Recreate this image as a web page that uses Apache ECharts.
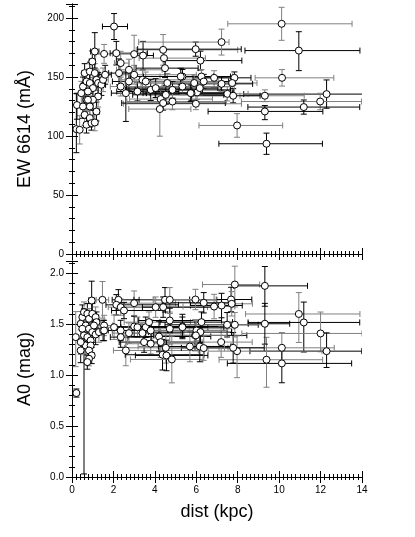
<!DOCTYPE html>
<html>
<head>
<meta charset="utf-8">
<script src="https://cdn.jsdelivr.net/npm/echarts@6/dist/echarts.min.js"></script>
<style>
  html, body { margin: 0; padding: 0; background: #fff; }
  #chart { width: 415px; height: 537px; }
</style>
</head>
<body>
<div id="chart"></div>
<script>
// ---- top panel: EW 6614 (mA) vs distance ----
const ewDist = [
  0.21,0.37,0.24,0.45,0.53,0.7,0.61,0.7,0.53,0.61,0.7,0.86,0.94,1.1,1.18,1.26,0.86,1.01,0.86,1.1,0.98,1.18,1.26,0.77,1.01,0.86,1.42,1.5,1.1,0.77,
  2.03,1.55,2.14,3.0,3.43,4.4,5.97,7.22,6.2,10.12,10.95,10.14,12.29,11.98,11.19,9.31,9.31,7.97,9.39,6.86,7.84,7.73,7.22,7.5,7.78,5.98,5.33,6.25,6.36,6.04,5.77,6.17,
  1.6,2.35,2.27,2.75,2.75,3.0,2.6,2.35,3.16,3.4,3.8,3.56,4.04,4.28,4.4,4.24,4.53,4.6,4.49,4.44,4.85,4.85,5.25,5.33,5.73,5.9
];
const ewDistMinus = [
  0.08,0.1,0.1,0.1,0.12,0.12,0.12,0.1,0.1,0.1,0.12,0.12,0.15,0.15,0.15,0.15,0.15,0.15,0.15,0.2,0.15,0.2,0.2,0.12,0.15,0.12,0.2,0.2,0.2,0.1,
  0.56,0.4,0.3,0.8,0.5,1.3,2.8,4.0,1.7,2.6,2.6,1.3,4.0,3.8,2.7,1.2,2.74,1.84,2.3,1.5,2.0,3.0,2.5,3.5,2.0,3.5,2.5,2.0,3.0,2.5,2.0,3.8,
  0.3,0.3,0.5,0.6,0.8,0.8,0.7,0.5,1.0,1.0,1.2,1.0,1.4,1.5,2.0,1.5,1.6,1.5,1.4,1.2,1.8,2.2,1.8,2.0,2.3,2.5
];
const ewDistPlus = [
  0.08,0.1,0.1,0.12,0.12,0.15,0.12,0.1,0.1,0.1,0.12,0.12,0.15,0.15,0.15,0.15,0.15,0.15,0.15,0.2,0.15,0.2,0.2,0.12,0.15,0.12,0.2,0.25,0.2,0.1,
  0.65,0.4,1.5,0.6,0.5,3.6,2.2,0.36,2.0,3.4,2.95,2.5,1.8,2.0,2.7,1.9,2.8,2.2,2.7,1.0,0.8,1.2,1.5,1.0,1.3,2.2,1.5,1.5,1.2,1.8,2.0,1.0,
  0.3,0.4,0.6,1.6,2.5,3.0,1.0,2.0,2.0,3.0,2.5,3.5,3.0,2.5,3.0,1.5,2.8,3.0,1.6,2.0,2.8,2.6,2.4,2.5,2.0,2.0
];
const ewValue = [
  105.9,105.3,126.3,136.4,142,146.3,153.4,130.8,125.1,118,109.6,115.3,111,111.5,120.8,133.6,145,140.7,154.7,153.4,163.2,147.7,145,137.8,130.8,125.1,143.5,147.7,171.7,130.8,
  192.9,169.7,170.3,169.5,168.3,173.1,173.7,179.7,164,195.2,172.5,149.4,135.6,129.3,124.6,134.2,120.9,109,93.5,149.4,149.4,145,144.3,135.8,134.2,127.4,150.5,150.5,146.3,137,136.4,140.7,
  152,161.9,153.4,156.2,146.3,152,136.4,142,137.8,147.7,139.2,146.3,140.7,131.4,128,122.9,135,145,157.6,166.1,139.2,129.3,150.5,142,136.4,145
];
const ewMinus = [
  20,12,12,10,8,9,8,10,10,9,7,8,6,7,8,9,9,9,8,8,9,9,9,9,9,9,9,10,14,9,
  11,8,10,16,12,13,6,11,8,14,17,7,12,7,6,5,7,10,9,8,5,5,6,6,6,5,6,6,6,6,6,6,
  8,10,10,9,8,8,24,8,8,8,9,8,8,8,6,23,8,8,8,8,7,7,7,7,7,7
];
const ewPlus = [
  30,12,10,10,8,9,8,10,10,9,7,8,6,7,8,9,9,9,8,8,9,9,9,9,9,9,9,10,16,9,
  11,8,10,16,12,13,6,11,8,14,16,7,12,7,6,5,5,10,9,6,5,5,6,6,6,7,6,6,6,6,6,6,
  8,10,12,9,8,8,18,8,8,8,9,8,8,8,6,10,8,8,8,8,7,7,7,7,7,7
];

// ---- bottom panel: A0 (mag) vs distance ----
const a0Dist = [
  0.21,0.18,0.58,0.42,0.5,0.58,0.74,0.82,0.98,1.14,1.18,0.66,0.5,0.82,0.98,0.58,0.74,0.9,1.14,1.3,0.42,0.66,0.9,0.82,0.95,0.82,0.74,0.42,1.5,1.06,0.95,1.47,
  2.24,3.0,4.49,4.72,2.14,2.35,2.51,4.04,4.4,1.55,1.55,2.03,2.35,2.75,3.0,3.16,3.56,3.72,3.8,3.4,2.35,2.6,3.48,3.8,4.2,4.28,4.37,4.53,4.56,4.82,4.72,4.72,5.33,5.69,5.94,
  7.86,9.31,10.95,11.19,12.0,12.29,10.13,10.13,9.39,9.31,7.97,7.78,7.2,7.49,7.86,7.68,7.71,7.22,6.86,6.36,5.96,6.25,6.01,6.2,5.98,6.17,6.36,5.33
];
const a0DistMinus = [
  0.05,0.1,0.1,0.1,0.1,0.12,0.12,0.12,0.15,0.15,0.15,0.12,0.1,0.12,0.15,0.1,0.12,0.12,0.15,0.15,0.1,0.1,0.12,0.12,0.12,0.1,0.1,0.1,0.25,0.15,0.15,0.3,
  0.3,0.8,1.5,0.8,0.5,0.6,0.6,1.5,1.0,0.3,0.3,0.6,0.7,0.8,1.0,1.0,1.2,1.2,1.5,1.0,0.5,0.6,1.2,1.2,1.5,1.6,1.8,2.0,1.5,2.0,1.5,2.0,2.0,2.5,2.0,
  1.56,1.5,2.57,2.69,3.8,3.7,3.03,2.63,2.29,0.8,1.4,2.5,2.5,3.0,2.5,2.0,2.0,1.5,1.5,2.0,2.0,2.0,2.5,2.5,2.0,2.0,2.0,1.5
];
const a0DistPlus = [
  0.05,0.1,0.1,0.1,0.1,0.12,0.12,0.12,0.15,0.15,0.15,0.12,0.1,0.12,0.15,0.1,0.12,0.12,0.15,0.15,0.1,0.1,0.12,0.12,0.12,0.1,0.1,0.1,0.25,0.15,0.15,0.3,
  1.0,2.0,2.5,2.5,3.0,2.0,2.0,2.5,2.5,0.4,0.4,1.0,2.5,2.5,3.0,2.5,3.0,2.0,2.5,2.0,1.5,3.5,2.5,2.5,2.5,2.0,2.0,3.0,2.0,1.5,2.5,3.0,2.5,2.0,2.5,
  1.2,2.06,2.95,2.7,2.0,1.7,2.53,3.37,2.71,1.2,4.1,1.5,1.5,1.5,1.5,1.0,1.0,1.0,1.0,1.5,1.0,1.5,1.5,1.5,1.5,1.5,1.0,2.0
];
const a0Value = [
  0.824,1.373,1.3,1.504,1.569,1.618,1.602,1.553,1.602,1.569,1.52,1.487,1.455,1.455,1.422,1.39,1.373,1.34,1.399,1.422,1.242,1.291,1.291,1.242,1.193,1.161,1.128,1.324,1.438,1.487,1.732,1.739,
  1.739,1.706,1.739,1.739,1.69,1.667,1.634,1.667,1.667,1.487,1.438,1.47,1.438,1.412,1.477,1.47,1.47,1.52,1.438,1.412,1.373,1.242,1.324,1.308,1.379,1.324,1.2,1.268,1.193,1.154,1.536,1.455,1.477,1.281,1.39,
  1.889,1.876,1.6,1.517,1.409,1.235,1.268,1.115,1.151,1.504,1.235,1.268,1.324,1.494,1.494,1.742,1.70,1.683,1.673,1.71,1.742,1.52,1.438,1.422,1.39,1.281,1.265,1.47
];
const a0Minus = [
  0.04,0.29,1.27,0.12,0.12,0.1,0.1,0.1,0.1,0.1,0.1,0.1,0.12,0.1,0.1,0.1,0.1,0.1,0.1,0.1,0.12,0.1,0.1,0.1,0.08,0.07,0.07,0.12,0.1,0.1,0.19,0.18,
  0.1,0.12,0.12,0.12,0.1,0.08,0.08,0.1,0.1,0.1,0.1,0.12,0.1,0.1,0.1,0.1,0.1,0.1,0.1,0.1,0.1,0.15,0.1,0.1,0.15,0.15,0.15,0.15,0.15,0.23,0.12,0.15,0.12,0.15,0.15,
  0.22,0.2,0.28,0.29,0.18,0.16,0.15,0.19,0.27,0.2,0.26,0.15,0.15,0.12,0.12,0.12,0.12,0.12,0.12,0.1,0.1,0.1,0.1,0.1,0.15,0.15,0.12,0.1
];
const a0Plus = [
  0.04,0.25,0.35,0.12,0.12,0.1,0.1,0.1,0.1,0.1,0.1,0.1,0.12,0.1,0.1,0.1,0.1,0.1,0.1,0.1,0.12,0.1,0.1,0.1,0.08,0.07,0.07,0.12,0.1,0.1,0.19,0.18,
  0.1,0.12,0.12,0.12,0.1,0.08,0.08,0.1,0.1,0.1,0.1,0.12,0.1,0.1,0.1,0.1,0.1,0.1,0.1,0.1,0.1,0.15,0.1,0.1,0.15,0.15,0.15,0.15,0.15,0.23,0.12,0.15,0.12,0.15,0.15,
  0.18,0.19,0.21,0.2,0.21,0.18,0.15,0.15,0.22,0.2,0.15,0.15,0.15,0.12,0.12,0.12,0.12,0.12,0.12,0.1,0.1,0.1,0.1,0.1,0.15,0.15,0.12,0.1
];

const xTicks = [0, 2, 4, 6, 8, 10, 12, 14];
const ewTicks = [0, 50, 100, 150, 200];
const a0Ticks = [0.0, 0.5, 1.0, 1.5, 2.0];

const FONT = 'Liberation Sans';
const barColors = ['#000000', '#808080'];

const rows = (x, xm, xp, y, ym, yp) =>
  x.map((v, i) => [v, xm[i], xp[i], y[i], ym[i], yp[i], i % 2])

// error bars: horizontal + vertical line with small caps
const renderErr = (params, api) => {
  const x = api.value(0), y = api.value(3)
  const c = api.coord([x, y])
  const l = api.coord([x - api.value(1), y])
  const r = api.coord([x + api.value(2), y])
  const b = api.coord([x, y - api.value(4)])
  const t = api.coord([x, y + api.value(5)])
  const cap = 3
  const style = { stroke: barColors[api.value(6)], lineWidth: 1 }
  const seg = (x1, y1, x2, y2) => ({ type: 'line', shape: { x1, y1, x2, y2 }, style })
  return {
    type: 'group',
    children: [
      seg(l[0], c[1], r[0], c[1]),
      seg(l[0], c[1] - cap, l[0], c[1] + cap),
      seg(r[0], c[1] - cap, r[0], c[1] + cap),
      seg(c[0], b[1], c[0], t[1]),
      seg(c[0] - cap, b[1], c[0] + cap, b[1]),
      seg(c[0] - cap, t[1], c[0] + cap, t[1])
    ]
  }
}

const tickBase = {
  axisLine: { show: true, lineStyle: { color: '#000', width: 1 } },
  axisTick: { show: true, inside: true, length: 6, lineStyle: { color: '#000' } },
  minorTick: { show: true, length: 3, lineStyle: { color: '#000' } },
  splitLine: { show: false }
}
const labelStyle = { color: '#000', fontFamily: FONT, fontSize: 10 }

const xAxisFor = (gridIndex, position, showLabel) => ({
  type: 'value', gridIndex, position, min: xTicks[0], max: 14, interval: 2,
  ...tickBase,
  minorTick: { ...tickBase.minorTick, splitNumber: 10 },
  axisLabel: { show: showLabel, ...labelStyle, margin: 8 },
  name: showLabel ? 'dist (kpc)' : '',
  nameLocation: 'middle', nameGap: 26,
  nameTextStyle: { color: '#000', fontFamily: FONT, fontSize: 18 }
})

const yAxisFor = (gridIndex, position, min, max, interval, name, fmt) => ({
  type: 'value', gridIndex, position, min, max, interval,
  ...tickBase,
  minorTick: { ...tickBase.minorTick, splitNumber: 5 },
  axisLabel: {
    show: position === 'left', ...labelStyle, margin: 8,
    formatter: fmt,
    showMaxLabel: false
  },
  name: position === 'left' ? name : '',
  nameLocation: 'middle', nameRotate: 90, nameGap: 38,
  nameTextStyle: { color: '#000', fontFamily: FONT, fontSize: 18 }
})

const chart = echarts.init(document.getElementById('chart'), null, { renderer: 'canvas' })

chart.setOption({
  animation: false,
  backgroundColor: '#fff',
  grid: [
    { left: 72, width: 290, top: 4, height: 250 },
    { left: 72, width: 290, top: 261, height: 216 }
  ],
  xAxis: [
    xAxisFor(0, 'bottom', false),
    xAxisFor(0, 'top', false),
    xAxisFor(1, 'bottom', true),
    xAxisFor(1, 'top', false)
  ],
  yAxis: [
    yAxisFor(0, 'left', ewTicks[0], 212, 50, 'EW 6614 (mÅ)', (v) => String(v)),
    yAxisFor(0, 'right', ewTicks[0], 212, 50, '', (v) => String(v)),
    yAxisFor(1, 'left', a0Ticks[0], 2.12, 0.5, 'A0 (mag)', (v) => v.toFixed(1)),
    yAxisFor(1, 'right', a0Ticks[0], 2.12, 0.5, '', (v) => v.toFixed(1))
  ],
  series: [
    {
      type: 'custom', xAxisIndex: 0, yAxisIndex: 0, clip: true,
      renderItem: renderErr,
      data: rows(ewDist, ewDistMinus, ewDistPlus, ewValue, ewMinus, ewPlus),
      encode: { x: 0, y: 3 }, z: 2
    },
    {
      type: 'scatter', xAxisIndex: 0, yAxisIndex: 0,
      symbol: 'circle', symbolSize: 7,
      itemStyle: { color: '#fff', borderColor: '#000', borderWidth: 1, opacity: 1 },
      data: ewDist.map((x, i) => [x, ewValue[i]]), z: 3
    },
    {
      type: 'custom', xAxisIndex: 2, yAxisIndex: 2, clip: true,
      renderItem: renderErr,
      data: rows(a0Dist, a0DistMinus, a0DistPlus, a0Value, a0Minus, a0Plus),
      encode: { x: 0, y: 3 }, z: 2
    },
    {
      type: 'scatter', xAxisIndex: 2, yAxisIndex: 2,
      symbol: 'circle', symbolSize: 7,
      itemStyle: { color: '#fff', borderColor: '#000', borderWidth: 1, opacity: 1 },
      data: a0Dist.map((x, i) => [x, a0Value[i]]), z: 3
    }
  ]
})
</script>
</body>
</html>
